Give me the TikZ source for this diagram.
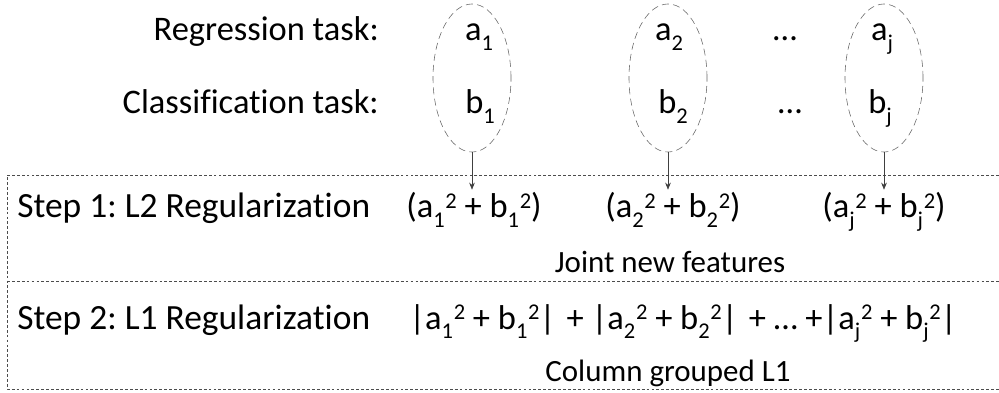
\documentclass[tikz,border=0pt]{standalone}
\usepackage{fontspec}
\setmainfont{Carlito}[Ligatures=NoCommon]
\usetikzlibrary{arrows.meta,shapes.geometric}

\newcommand{\tsub}[1]{\raisebox{-6.5pt}{\fontsize{16}{16}\selectfont #1}}
\newcommand{\tsup}[1]{\raisebox{7pt}{\fontsize{16}{16}\selectfont #1}}
\newcommand{\sqt}[2]{#1\tsub{#2}\hspace{0.5pt}\tsup{2}}

\tikzset{
  lbl/.style={anchor=base, inner sep=0pt, font=\fontsize{24.5}{28}\selectfont},
  steplbl/.style={lbl, anchor=base west, font=\fontsize{25.2}{29}\selectfont},
  note/.style={lbl, font=\fontsize{22}{26}\selectfont},
  feat/.style={lbl, inner ysep=2pt},
  grp/.style={ellipse, draw=gray!80!black, dash pattern=on 5pt off 3pt, minimum width=1.95cm, minimum height=3.7cm, inner sep=0pt},
  link/.style={-{Stealth[length=5pt,width=4pt]}, black!75},
  frame/.style={draw=gray!60!black, dash pattern=on 2pt off 1.5pt},
}

\begin{document}
\frenchspacing
\begin{tikzpicture}[x=0.025cm, y=-0.025cm]
\useasboundingbox (0,0) rectangle (999,393);

% task labels
\node[lbl, anchor=base east] (reg) at (379,41) {Regression task:};
\node[lbl, anchor=base east] (cls) at (379,114) {Classification task:};

% grouped columns
\node[grp] (g1) at (472,78) {};
\node[grp] (g2) at (668,78) {};
\node[grp] (gj) at (884,78) {};

\node[lbl] (a1) at (479,41) {a\tsub{1}};
\node[lbl] (b1) at (480,114) {b\tsub{1}};
\node[lbl] (a2) at (669,41) {a\tsub{2}};
\node[lbl] (b2) at (673,114) {b\tsub{2}};
\node[lbl] (aj) at (882,41) {a\tsub{j}};
\node[lbl] (bj) at (880,114) {b\tsub{j}};
\node[lbl] (da) at (785,41) {…};
\node[lbl] (db) at (790,114) {…};

% frame
\draw[frame] (999,175) -- (7,175) -- (7,389) -- (999,389);
\draw[frame] (7,281) -- (999,281);

% step 1
\node[steplbl] (s1) at (17,217) {Step 1: L2 Regularization};
\node[feat] (f1) at (474,218) {(\sqt{a}{1} + \sqt{b}{1})};
\node[feat] (f2) at (673,218) {(\sqt{a}{2} + \sqt{b}{2})};
\node[feat] (fj) at (884,218) {(\sqt{a}{j} + \sqt{b}{j})};
\node[note] (joint) at (670,272) {Joint new features};

\draw[link] (g1.south) -- (g1.south |- f1.north);
\draw[link] (g2.south) -- (g2.south |- f2.north);
\draw[link] (gj.south) -- (gj.south |- fj.north);

% step 2
\node[steplbl] (s2) at (17,329) {Step 2: L1 Regularization};
\node[lbl] (sum) at (683,329) {|\sqt{a}{1} + \sqt{b}{1}|\hspace{8pt}+ |\sqt{a}{2} + \sqt{b}{2}|\hspace{8pt}+ … +|\sqt{a}{j} + \sqt{b}{j}|};
\node[note] (col) at (668,381) {Column grouped L1};

\end{tikzpicture}
\end{document}
